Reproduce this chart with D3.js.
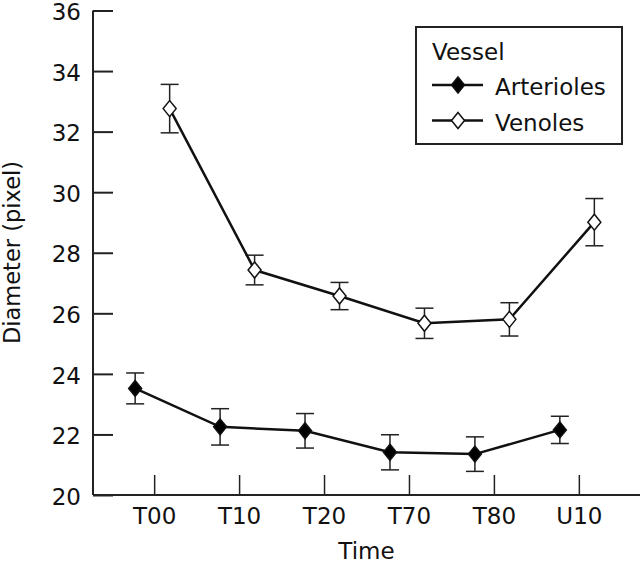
<!DOCTYPE html>
<html><head><meta charset="utf-8">
<script src="https://cdn.jsdelivr.net/npm/d3@7"></script>
<style>body{margin:0;background:#fff}svg{display:block}text{font-family:"DejaVu Sans","Liberation Sans",Arial,sans-serif;fill:#111}</style>
</head><body>
<svg id="c" width="640" height="565"></svg>
<script>
const categories = ["T00","T10","T20","T70","T80","U10"];
const arteriolesMean = [23.52,22.25,22.12,21.41,21.35,22.15];
const arteriolesErr  = [0.51,0.60,0.57,0.58,0.57,0.45];
const venolesMean = [32.76,27.43,26.57,25.67,25.80,29.01];
const venolesErr  = [0.80,0.49,0.45,0.50,0.55,0.78];
const yTicks = [20,22,24,26,28,30,32,34,36];
const seriesNames = ["Arterioles","Venoles"];

(function(){
const svg = d3.select("#c");
const pl = 93, pr = 640, pt = 10.5, pb = 495;
const fs = 23;
const x = d3.scalePoint().domain(categories).range([pl, pr]).padding(0.72);
const y = d3.scaleLinear().domain([20,36]).range([pb, pt]);

const yAxis = svg.append("g").attr("transform",`translate(${pl},0)`)
  .call(d3.axisRight(y).tickValues(yTicks).tickSize(20).tickSizeOuter(0).tickFormat(d3.format("d")));
yAxis.selectAll(".tick line").attr("stroke","#222").attr("stroke-width",2);
yAxis.selectAll(".tick text").attr("x",-12).attr("text-anchor","end").attr("font-size",fs).attr("dy","0.4em");

const xAxis = svg.append("g").attr("transform",`translate(0,${pb})`)
  .call(d3.axisTop(x).tickSize(20).tickSizeOuter(0));
xAxis.selectAll(".tick line").attr("stroke","#222").attr("stroke-width",1.5);
xAxis.selectAll(".tick text").attr("y",13).attr("dy","0.71em").attr("font-size",fs).attr("text-anchor","middle");

svg.selectAll(".domain").remove();
svg.append("line").attr("x1",pl).attr("x2",pl).attr("y1",y(36)).attr("y2",pb).attr("stroke","#222").attr("stroke-width",2);
svg.append("line").attr("x1",pl).attr("x2",pr).attr("y1",pb).attr("y2",pb).attr("stroke","#222").attr("stroke-width",2);

svg.append("text").attr("x",(pl+pr)/2).attr("y",559).attr("text-anchor","middle").attr("font-size",fs).text("Time");
svg.append("text").attr("transform","translate(20,252.5) rotate(-90)").attr("text-anchor","middle").attr("font-size",22.5)
  .text("Diameter (pixel)");

const series = [
  {name:seriesNames[0], mean:arteriolesMean, err:arteriolesErr, off:-19, fill:"#000"},
  {name:seriesNames[1], mean:venolesMean, err:venolesErr, off:15.5, fill:"#fff"}
];
const diamond = (cx,cy)=>`M${cx},${cy-8}L${cx+6.5},${cy}L${cx},${cy+8}L${cx-6.5},${cy}Z`;

series.forEach(s=>{
  const pts = categories.map((c,i)=>({x:x(c)+s.off, m:s.mean[i], e:s.err[i]}));
  const g = svg.append("g");
  pts.forEach(p=>{
    g.append("line").attr("x1",p.x).attr("x2",p.x).attr("y1",y(p.m+p.e)).attr("y2",y(p.m-p.e)).attr("stroke","#222").attr("stroke-width",1.5);
    [p.m+p.e,p.m-p.e].forEach(v=>g.append("line").attr("x1",p.x-9).attr("x2",p.x+9).attr("y1",y(v)).attr("y2",y(v)).attr("stroke","#222").attr("stroke-width",1.5));
  });
  g.append("path").datum(pts).attr("fill","none").attr("stroke","#111").attr("stroke-width",2.5)
    .attr("d",d3.line().x(p=>p.x).y(p=>y(p.m)));
  pts.forEach(p=>g.append("path").attr("d",diamond(p.x,y(p.m))).attr("fill",s.fill).attr("stroke","#111").attr("stroke-width",1.5));
});

const lg = svg.append("g");
lg.append("rect").attr("x",416).attr("y",27).attr("width",206).attr("height",117).attr("fill","#fff").attr("stroke","#222").attr("stroke-width",2);
lg.append("text").attr("x",432).attr("y",60).attr("font-size",fs).text("Vessel");
series.forEach((s,i)=>{
  const ly = 85 + i*35.5;
  lg.append("line").attr("x1",432).attr("x2",483).attr("y1",ly).attr("y2",ly).attr("stroke","#111").attr("stroke-width",2.5);
  lg.append("path").attr("d",diamond(458,ly)).attr("fill",s.fill).attr("stroke","#111").attr("stroke-width",1.5);
  lg.append("text").attr("x",495).attr("y",ly+10).attr("font-size",fs).text(s.name);
});
})();
</script>
</body></html>
